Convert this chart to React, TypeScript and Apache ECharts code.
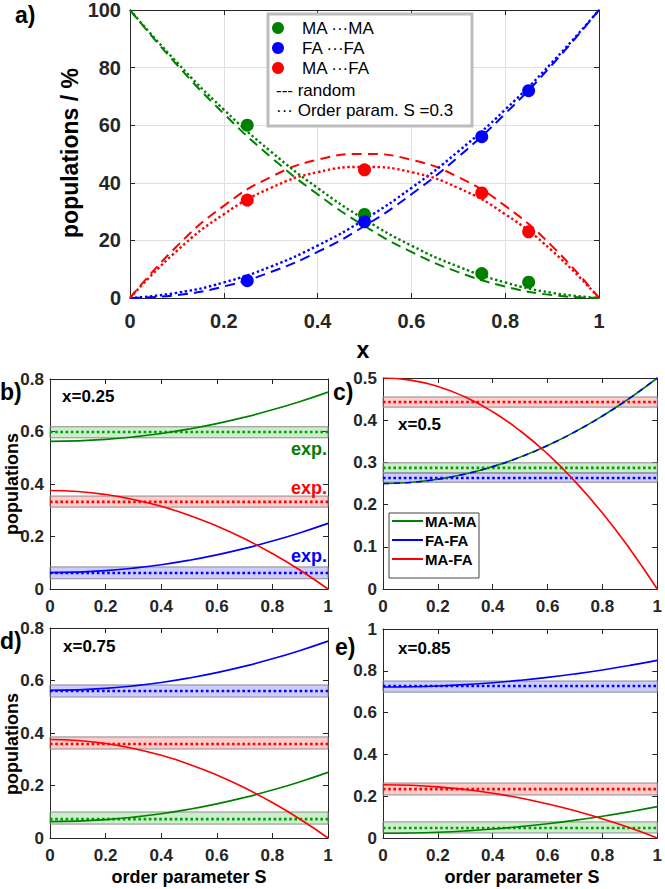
import React, { useEffect, useRef } from "react";
import * as echarts from "echarts";

// ---------- DATA ----------
// panel a (x = mole fraction, populations in %)
const sampleX = [0, 0.1, 0.2, 0.3, 0.4, 0.5, 0.6, 0.7, 0.8, 0.9, 1];
const randomMAMA = [100, 81, 64, 49, 36, 25, 16, 9, 4, 1, 0];
const randomFAFA = [0, 1, 4, 9, 16, 25, 36, 49, 64, 81, 100];
const randomMAFA = [0, 18, 32, 42, 48, 50, 48, 42, 32, 18, 0];
const orderMAMA = [100, 81.8, 65.4, 50.9, 38.2, 27.3, 18.2, 10.9, 5.4, 1.8, 0];
const orderFAFA = [0, 1.8, 5.4, 10.9, 18.2, 27.3, 38.2, 50.9, 65.4, 81.8, 100];
const orderMAFA = [0, 16.4, 29.1, 38.2, 43.7, 45.5, 43.7, 38.2, 29.1, 16.4, 0];
const expX = [0.25, 0.5, 0.75, 0.85];
const expMAMA = [60, 29, 8.5, 5.5];
const expFAFA = [6, 26.5, 56, 72];
const expMAFA = [34, 44.5, 36.5, 23];

// panels b-e (order parameter S)
const sampleS = [0, 0.1, 0.2, 0.3, 0.4, 0.5, 0.6, 0.7, 0.8, 0.9, 1];
const bMAMA = [0.5625, 0.5644, 0.57, 0.5794, 0.5925, 0.6094, 0.63, 0.6544, 0.6825, 0.7144, 0.75];
const bFAFA = [0.0625, 0.0644, 0.07, 0.0794, 0.0925, 0.1094, 0.13, 0.1544, 0.1825, 0.2144, 0.25];
const bMAFA = [0.375, 0.3713, 0.36, 0.3413, 0.315, 0.2813, 0.24, 0.1913, 0.135, 0.0713, 0];
const cMAMA = [0.25, 0.2525, 0.26, 0.2725, 0.29, 0.3125, 0.34, 0.3725, 0.41, 0.4525, 0.5];
const cFAFA = [0.25, 0.2525, 0.26, 0.2725, 0.29, 0.3125, 0.34, 0.3725, 0.41, 0.4525, 0.5];
const cMAFA = [0.5, 0.495, 0.48, 0.455, 0.42, 0.375, 0.32, 0.255, 0.18, 0.095, 0];
const dMAMA = [0.0625, 0.0644, 0.07, 0.0794, 0.0925, 0.1094, 0.13, 0.1544, 0.1825, 0.2144, 0.25];
const dFAFA = [0.5625, 0.5644, 0.57, 0.5794, 0.5925, 0.6094, 0.63, 0.6544, 0.6825, 0.7144, 0.75];
const dMAFA = [0.375, 0.3713, 0.36, 0.3413, 0.315, 0.2813, 0.24, 0.1913, 0.135, 0.0713, 0];
const eMAMA = [0.0225, 0.0238, 0.0276, 0.034, 0.0429, 0.0544, 0.0684, 0.085, 0.1041, 0.1258, 0.15];
const eFAFA = [0.7225, 0.7238, 0.7276, 0.734, 0.7429, 0.7544, 0.7684, 0.785, 0.8041, 0.8258, 0.85];
const eMAFA = [0.255, 0.2524, 0.2448, 0.232, 0.2142, 0.1913, 0.1632, 0.1301, 0.0918, 0.0485, 0];

// experimental values [MA-MA, FA-FA, MA-FA] and their bands [low, high]
const bExp = [0.598, 0.061, 0.332];
const bBand = [[0.576, 0.618], [0.039, 0.084], [0.312, 0.354]];
const cExp = [0.287, 0.263, 0.443];
const cBand = [[0.275, 0.299], [0.253, 0.275], [0.431, 0.455]];
const dExp = [0.072, 0.56, 0.358];
const dBand = [[0.053, 0.099], [0.537, 0.583], [0.339, 0.385]];
const eExp = [0.048, 0.727, 0.234];
const eBand = [[0.024, 0.077], [0.698, 0.751], [0.206, 0.263]];

// ---------- STYLE ----------
const GREEN = "#008000";
const BLUE = "#0000ff";
const RED = "#ff0000";
const FILLS = ["rgba(0,170,0,0.2)", "rgba(0,0,255,0.2)", "rgba(255,0,0,0.2)"];
const COLORS = [GREEN, BLUE, RED];
const DOTS = ["#00a000", "#0000ff", "#ff0000"];
const AX = "#262626";
const FONT = "'Liberation Sans', Arial, Helvetica, sans-serif";

const fmt = (v: number) => String(+v.toFixed(2));

export default function App() {
  const ref = useRef<HTMLDivElement>(null);

  useEffect(() => {
    document.body.style.margin = "0";
    const chart = echarts.init(ref.current!, null, { renderer: "svg" });

    const grids: any[] = [];
    const xAxes: any[] = [];
    const yAxes: any[] = [];
    const series: any[] = [];

    function addPanel(
      rect: { left: number; top: number; width: number; height: number },
      ymax: number,
      yint: number,
      fs: number,
      xMargin: number,
      yMargin: number,
      gridLines: boolean
    ) {
      const gi = grids.length;
      grids.push({ ...rect, containLabel: false, show: false });
      const common = {
        type: "value",
        gridIndex: gi,
        axisLine: { show: true, onZero: false, lineStyle: { color: AX, width: 1 } },
        axisTick: { show: true, inside: true, length: 5, lineStyle: { color: AX, width: 1 } },
      };
      const xi = xAxes.length;
      xAxes.push({
        ...common,
        position: "bottom",
        min: 0,
        max: 1,
        interval: 0.2,
        axisLabel: {
          color: AX,
          fontSize: fs,
          fontWeight: "bold",
          fontFamily: FONT,
          margin: xMargin,
          formatter: fmt,
        },
        splitLine: { show: gridLines, lineStyle: { color: "#e0e0e0", width: 1 } },
      });
      xAxes.push({
        ...common,
        position: "top",
        min: 0,
        max: 1,
        interval: 0.2,
        axisLabel: { show: false },
        splitLine: { show: false },
      });
      const yi = yAxes.length;
      yAxes.push({
        ...common,
        position: "left",
        min: 0,
        max: ymax,
        interval: yint,
        axisLabel: {
          color: AX,
          fontSize: fs,
          fontWeight: "bold",
          fontFamily: FONT,
          margin: yMargin,
          formatter: fmt,
        },
        splitLine: { show: gridLines, lineStyle: { color: "#e0e0e0", width: 1 } },
      });
      yAxes.push({
        ...common,
        position: "right",
        min: 0,
        max: ymax,
        interval: yint,
        axisLabel: { show: false },
        splitLine: { show: false },
      });
      return { xi, yi };
    }

    // panel a
    const a = addPanel({ left: 130, top: 9, width: 469, height: 289 }, 100, 20, 20, 13, 9, true);
    const randomSets = [randomMAMA, randomFAFA, randomMAFA];
    const orderSets = [orderMAMA, orderFAFA, orderMAFA];
    const expSets = [expMAMA, expFAFA, expMAFA];
    randomSets.forEach((arr, k) => {
      series.push({
        type: "line",
        xAxisIndex: a.xi,
        yAxisIndex: a.yi,
        data: sampleX.map((x, i) => [x, arr[i]]),
        smooth: true,
        showSymbol: false,
        silent: true,
        lineStyle: { color: COLORS[k], width: 2, type: [10, 6] },
      });
    });
    orderSets.forEach((arr, k) => {
      series.push({
        type: "line",
        xAxisIndex: a.xi,
        yAxisIndex: a.yi,
        data: sampleX.map((x, i) => [x, arr[i]]),
        smooth: true,
        showSymbol: false,
        silent: true,
        lineStyle: { color: COLORS[k], width: 2.4, type: [2.4, 2.6] },
      });
    });
    expSets.forEach((arr, k) => {
      series.push({
        type: "scatter",
        xAxisIndex: a.xi,
        yAxisIndex: a.yi,
        data: expX.map((x, i) => [x, arr[i]]),
        symbolSize: 13,
        itemStyle: { color: COLORS[k], opacity: 1 },
        z: 5,
      });
    });

    // panels b-e
    const panels = [
      { rect: { left: 50, top: 379, width: 278, height: 210 }, ymax: 0.8, yint: 0.2, model: [bMAMA, bFAFA, bMAFA], exp: bExp, band: bBand, dashBlue: false },
      { rect: { left: 383, top: 378, width: 278, height: 211 }, ymax: 0.5, yint: 0.1, model: [cMAMA, cFAFA, cMAFA], exp: cExp, band: cBand, dashBlue: true },
      { rect: { left: 50, top: 628, width: 278, height: 210 }, ymax: 0.8, yint: 0.2, model: [dMAMA, dFAFA, dMAFA], exp: dExp, band: dBand, dashBlue: false },
      { rect: { left: 383, top: 629, width: 278, height: 209 }, ymax: 1, yint: 0.2, model: [eMAMA, eFAFA, eMAFA], exp: eExp, band: eBand, dashBlue: false },
    ];
    panels.forEach((p) => {
      const ax = addPanel(p.rect, p.ymax, p.yint, 17, 9, 6, false);
      // bands (separate, underneath)
      p.band.forEach((bd, k) => {
        series.push({
          type: "line",
          xAxisIndex: ax.xi,
          yAxisIndex: ax.yi,
          data: [],
          silent: true,
          z: 1,
          markArea: {
            silent: true,
            z: 1,
            itemStyle: { color: FILLS[k], borderColor: "#8c8c8c", borderWidth: 1 },
            data: [[{ xAxis: 0, yAxis: bd[0] }, { xAxis: 1, yAxis: bd[1] }]],
          },
        });
      });
      // experimental dotted lines
      p.exp.forEach((v, k) => {
        series.push({
          type: "line",
          xAxisIndex: ax.xi,
          yAxisIndex: ax.yi,
          data: [[0, v], [1, v]],
          showSymbol: false,
          silent: true,
          z: 4,
          lineStyle: { color: DOTS[k], width: 2.6, type: [2.6, 2.6], opacity: 1 },
        });
      });
      // model curves
      p.model.forEach((arr, k) => {
        series.push({
          type: "line",
          xAxisIndex: ax.xi,
          yAxisIndex: ax.yi,
          data: sampleS.map((s, i) => [s, arr[i]]),
          smooth: true,
          showSymbol: false,
          silent: true,
          z: 5,
          lineStyle: {
            color: COLORS[k],
            width: 1.6,
            type: p.dashBlue && k === 1 ? [6, 5] : "solid",
          },
        });
      });
    });

    const t = (x: number, y: number, text: string, o: any = {}) => ({
      type: "text",
      x,
      y,
      z: 100,
      rotation: o.rotation || 0,
      style: {
        text,
        fill: o.fill || "#000",
        font: `${o.weight || "bold"} ${o.size || 16}px ${FONT}`,
        textAlign: o.align || "left",
        textVerticalAlign: "middle",
      },
    });

    const graphic: any[] = [
      // panel labels
      t(15, 15, "a)", { size: 23 }),
      t(0, 392, "b)", { size: 23 }),
      t(333, 392, "c)", { size: 23 }),
      t(0, 641, "d)", { size: 23 }),
      t(335, 647, "e)", { size: 23 }),
      // axis titles
      t(363, 350, "x", { size: 23, align: "center" }),
      t(70, 153, "populations / %", { size: 23, align: "center", rotation: Math.PI / 2 }),
      t(12, 484, "populations", { size: 18, align: "center", rotation: Math.PI / 2 }),
      t(12, 744, "populations", { size: 18, align: "center", rotation: Math.PI / 2 }),
      t(189, 877, "order parameter S", { size: 18, align: "center" }),
      t(522, 877, "order parameter S", { size: 18, align: "center" }),
      // x values
      t(62, 396, "x=0.25", { size: 17 }),
      t(398, 424, "x=0.5", { size: 17 }),
      t(63, 646, "x=0.75", { size: 17 }),
      t(398, 648, "x=0.85", { size: 17 }),
      // exp. labels panel b
      t(327, 449, "exp.", { size: 18, align: "right", fill: GREEN }),
      t(327, 488, "exp.", { size: 18, align: "right", fill: RED }),
      t(327, 556, "exp.", { size: 18, align: "right", fill: BLUE }),
      // legend panel a
      {
        type: "rect",
        z: 90,
        shape: { x: 268, y: 14, width: 204, height: 112 },
        style: { fill: "#fff", stroke: "#bdbdbd", lineWidth: 3 },
      },
      ...COLORS.map((c, k) => ({
        type: "circle",
        z: 95,
        shape: { cx: 278, cy: 28 + k * 20, r: 6 },
        style: { fill: c },
      })),
      t(302, 28, "MA \u00b7\u00b7\u00b7MA", { size: 17, weight: "normal" }),
      t(302, 48, "FA \u00b7\u00b7\u00b7FA", { size: 17, weight: "normal" }),
      t(302, 68, "MA \u00b7\u00b7\u00b7FA", { size: 17, weight: "normal" }),
      t(276, 90, "--- random", { size: 17, weight: "normal" }),
      t(276, 110, "\u00b7\u00b7\u00b7 Order param. S =0.3", { size: 17, weight: "normal" }),
      // legend panel c
      {
        type: "rect",
        z: 90,
        shape: { x: 389, y: 513, width: 90, height: 65 },
        style: { fill: "#fff", stroke: "#444", lineWidth: 1 },
      },
      ...COLORS.map((c, k) => ({
        type: "line",
        z: 95,
        shape: { x1: 392, y1: 521 + k * 19, x2: 423, y2: 521 + k * 19 },
        style: { stroke: c, lineWidth: 2 },
      })),
      t(425, 521, "MA-MA", { size: 15 }),
      t(425, 540, "FA-FA", { size: 15 }),
      t(425, 559, "MA-FA", { size: 15 }),
    ];

    chart.setOption({
      animation: false,
      backgroundColor: "#fff",
      grid: grids,
      xAxis: xAxes,
      yAxis: yAxes,
      series,
      graphic,
    });

    return () => chart.dispose();
  }, []);

  return <div ref={ref} style={{ width: 665, height: 889 }} />;
}
